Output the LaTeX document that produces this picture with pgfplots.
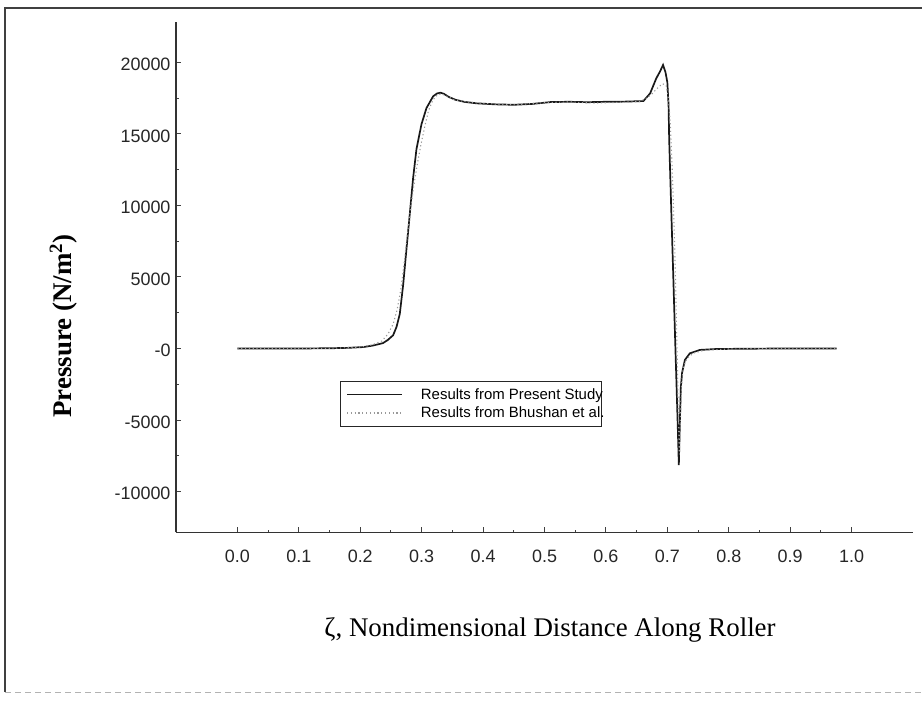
\documentclass[border=0pt]{standalone}
\usepackage{fontspec}
\setmainfont{Liberation Serif}
\newfontfamily\arialfont{Liberation Sans}
\usepackage{pgfplots}
\pgfplotsset{compat=1.18}

% Pressure along the roller: present study (solid) and Bhushan et al. (dotted)
\pgfplotstableread{
x      p
0.000  0
0.050  0
0.100  0
0.150  15
0.180  45
0.205  100
0.220  200
0.237  375
0.245  600
0.2535 925
0.259  1500
0.2644 2425
0.2698 4425
0.2752 6925
0.2807 9425
0.2861 11925
0.2915 13925
0.2997 15675
0.3078 16800
0.3187 17625
0.3250 17820
0.3306 17875
0.3360 17800
0.3440 17580
0.3550 17380
0.3700 17230
0.3900 17130
0.4200 17060
0.4500 17030
0.4800 17090
0.5100 17220
0.5400 17240
0.5700 17210
0.6000 17240
0.6300 17250
0.6610 17290
0.6720 17830
0.6820 18880
0.6880 19350
0.6930 19810
0.6970 19300
0.7000 18600
0.7020 17000
0.7030 14600
0.7050 11700
0.7070 8800
0.7090 6000
0.7110 3100
0.7130 200
0.7150 -2600
0.7170 -5500
0.7187 -8150
0.7205 -5000
0.7220 -2700
0.7240 -1700
0.7286 -800
0.7366 -340
0.7530 -100
0.7800 -35
0.8500 -10
0.9000 0
0.9756 0
}\present

\pgfplotstableread{
x      p
0.000  0
0.050  0
0.100  0
0.150  15
0.180  50
0.205  120
0.220  260
0.235  520
0.245  1000
0.2535 1700
0.260  2700
0.266  4100
0.271  5800
0.276  7700
0.281  9500
0.287  11300
0.293  12900
0.299  14300
0.305  15500
0.311  16600
0.318  17350
0.325  17700
0.332  17800
0.340  17650
0.352  17400
0.370  17250
0.400  17120
0.450  17020
0.500  17180
0.540  17230
0.580  17150
0.620  17200
0.655  17250
0.665  17450
0.675  17800
0.684  18200
0.692  18500
0.698  18400
0.702  17400
0.705  15500
0.708  12500
0.710  9800
0.712  7100
0.714  3500
0.716  -500
0.718  -4800
0.7195 -7400
0.721  -5300
0.723  -2600
0.726  -1300
0.732  -700
0.742  -330
0.760  -120
0.800  -35
0.850  -10
0.900  0
0.9756 0
}\bhushan

\begin{document}
\begin{tikzpicture}[x=1bp,y=1bp]
\path[use as bounding box] (0,0) rectangle (922,704);
% page frame
\draw[line width=1.6bp, black!75] (5,12) -- (5,696) -- (922,696);
\draw[line width=0.6bp, black!30, dash pattern=on 6bp off 4bp] (5,12) -- (922,12);

\begin{axis}[
  at={(176bp,171.5bp)}, anchor=south west,
  scale only axis, width=737bp, height=510.5bp,
  xmin=-0.1, xmax=1.1,
  ymin=-12858, ymax=22816,
  scaled x ticks=false, scaled y ticks=false,
  axis x line=bottom, axis y line=left,
  axis line style={-, line width=1.5bp, black!80},
  xtick={0,0.1,...,1.0},
  xticklabels={0.0,0.1,0.2,0.3,0.4,0.5,0.6,0.7,0.8,0.9,1.0},
  ytick={-10000,-5000,0,5000,10000,15000,20000},
  yticklabels={-10000,-5000,-0,5000,10000,15000,20000},
  minor x tick num=1, minor y tick num=1,
  tick align=inside,
  major tick length=5bp, minor tick length=2.5bp,
  tick style={line width=1bp, black!75},
  ticklabel style={font=\arialfont\fontsize{18}{18}\selectfont, black!85},
  xticklabel style={anchor=center, yshift=-24bp},
  yticklabel style={anchor=east, xshift=-2bp, yshift=-2bp},
  every axis x label/.style={at={(rel axis cs:0.5075,-0.191)}, anchor=center},
  every axis y label/.style={at={(rel axis cs:-0.153,0.4045)}, anchor=center, rotate=90},
  xlabel={\fontsize{27}{27}\selectfont ζ, Nondimensional Distance Along Roller},
  ylabel={\fontsize{27}{27}\selectfont\bfseries Pressure (N/m\textsuperscript{2})},
  legend style={
    at={(axis cs:0.1666,-2271)}, anchor=north west,
    draw=black!85, line width=1bp,
    font=\arialfont\fontsize{15}{15}\selectfont,
    inner xsep=6bp, inner ysep=5bp,
    row sep=2bp, column sep=16bp,
  },
  legend cell align=left,
  legend image code/.code={\draw[#1] (0bp,0bp) -- (55bp,0bp);},
  clip=false,
]
\addplot[black!90, line width=1.7bp] table[x=x, y=p] {\present};
\addlegendentry{Results from Present Study\hspace*{-11bp}}
\addplot[gray!80, line width=1.1bp, dash pattern=on 1.2bp off 2.6bp] table[x=x, y=p] {\bhushan};
\addlegendentry{Results from Bhushan et al.\hspace*{-11bp}}
\end{axis}
\end{tikzpicture}
\end{document}
